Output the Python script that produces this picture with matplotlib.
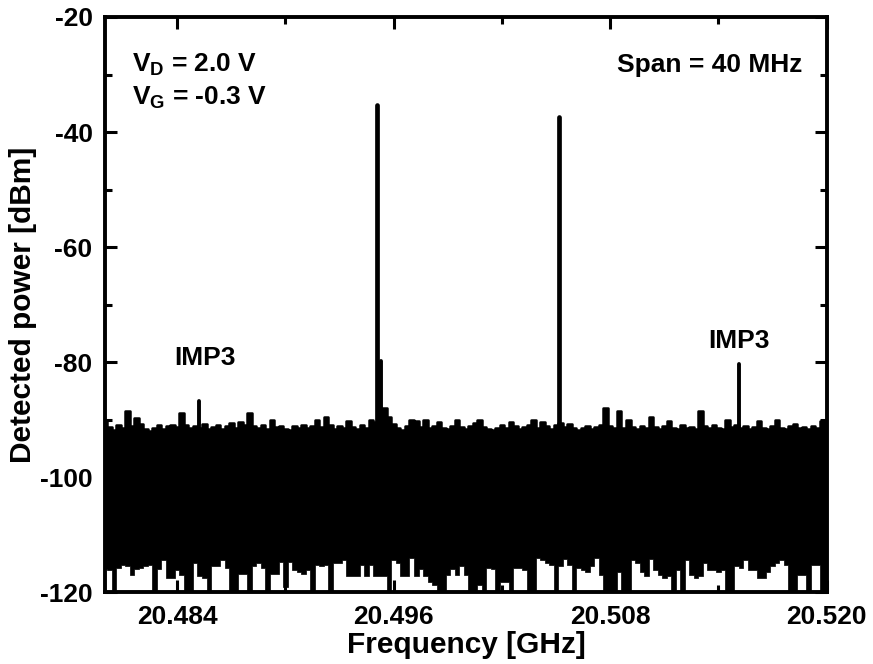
import numpy as np
import matplotlib
matplotlib.use("Agg")
import matplotlib.pyplot as plt
from matplotlib.ticker import FixedLocator

plt.rcParams['font.family'] = ['Liberation Sans', 'DejaVu Sans']
plt.rcParams['font.weight'] = 'bold'
plt.rcParams['axes.unicode_minus'] = False
plt.rcParams['mathtext.fontset'] = 'custom'
plt.rcParams['mathtext.rm'] = 'Liberation Sans:bold'
plt.rcParams['mathtext.bf'] = 'Liberation Sans:bold'
plt.rcParams['mathtext.it'] = 'Liberation Sans:bold'

# ---- data ----
f_start = 20.480          # GHz
f_step = 0.00025          # GHz (0.25 MHz grid of the noise envelope)

noise_upper = [
    -90.2, -91.3, -91.8, -91.0, -91.5, -88.6, -91.2, -89.7, -90.8, -91.6,
    -92.0, -91.4, -91.0, -91.7, -91.2, -90.9, -91.3, -88.8, -91.0, -91.5,
    -91.2, -91.4, -90.8, -91.6, -91.3, -91.0, -91.7, -91.2, -90.6, -91.4,
    -90.5, -91.0, -88.8, -91.1, -91.5, -91.0, -91.6, -90.0, -91.3, -91.1,
    -91.6, -91.8, -91.2, -91.4, -90.9, -91.5, -91.1, -90.0, -91.3, -89.5,
    -91.0, -91.6, -91.2, -91.4, -90.2, -91.3, -91.7, -91.0, -91.5, -90.0,
    -90.5, -89.0, -88.0, -89.6, -90.8, -91.4, -91.8, -91.2, -90.0, -90.3,
    -91.3, -90.0, -91.5, -91.2, -90.5, -91.4, -91.6, -91.1, -90.0, -91.3,
    -91.7, -91.2, -90.6, -90.0, -91.3, -91.6, -91.9, -91.4, -91.0, -91.5,
    -90.5, -91.2, -91.6, -91.3, -91.0, -90.0, -91.4, -90.5, -91.2, -91.6,
    -91.0, -90.6, -91.3, -90.8, -91.5, -91.8, -91.4, -91.2, -91.7, -91.3,
    -91.0, -88.0, -91.2, -91.5, -88.6, -91.4, -90.0, -91.3, -91.6, -91.2,
    -91.5, -89.5, -91.3, -91.6, -91.2, -90.2, -91.4, -91.7, -91.0, -91.5,
    -91.3, -91.6, -88.6, -91.2, -91.5, -91.0, -91.4, -91.7, -90.0, -91.3,
    -91.0, -91.5, -91.2, -91.6, -91.3, -90.3, -91.4, -91.7, -91.2, -90.0,
    -91.4, -91.6, -91.2, -90.8, -91.5, -91.3, -91.7, -91.1, -91.4, -90.2,
    -90.6,
]

noise_lower = [
    -116.0, -116.2, -121.0, -115.8, -115.3, -115.5, -117.0, -116.0, -115.9, -115.5,
    -115.3, -121.0, -116.0, -114.4, -117.5, -117.6, -116.2, -117.1, -121.0, -121.0,
    -114.9, -117.3, -117.6, -121.0, -115.5, -115.5, -114.4, -115.9, -121.0, -121.0,
    -116.8, -116.8, -121.0, -115.5, -114.9, -115.9, -121.0, -116.8, -116.8, -114.8,
    -119.1, -114.8, -116.2, -116.5, -116.8, -116.2, -121.0, -115.3, -115.5, -115.3,
    -121.0, -114.9, -114.9, -114.4, -117.3, -117.3, -117.3, -115.3, -117.3, -115.3,
    -117.3, -117.3, -117.3, -121.0, -114.4, -114.9, -117.3, -117.3, -114.0, -117.3,
    -116.0, -117.3, -118.2, -118.8, -121.0, -121.0, -117.1, -116.0, -117.1, -115.5,
    -117.1, -121.0, -121.0, -118.8, -121.0, -115.9, -116.0, -121.0, -118.2, -118.2,
    -121.0, -115.9, -115.9, -116.2, -121.0, -121.0, -114.0, -114.4, -114.9, -115.3,
    -121.0, -115.5, -114.2, -115.3, -121.0, -115.9, -116.2, -116.5, -115.5, -114.0,
    -117.1, -121.0, -121.0, -121.0, -116.5, -121.0, -121.0, -114.4, -114.9, -116.5,
    -117.3, -114.2, -116.2, -117.1, -117.6, -117.3, -121.0, -116.2, -121.0, -114.4,
    -117.1, -117.6, -117.3, -114.9, -116.2, -116.2, -116.5, -116.2, -121.0, -121.0,
    -115.5, -115.9, -114.4, -116.2, -116.2, -117.6, -117.6, -116.5, -115.5, -114.9,
    -114.4, -115.3, -121.0, -121.0, -117.1, -117.1, -121.0, -115.3, -115.3, -121.0,
    -121.0,
]

# spectral lines: two tones, spur on the first tone's skirt, and the IMP3 products
line_freq = [20.48522, 20.49509, 20.49530, 20.50515, 20.51513]
line_level = [-86.7, -35.3, -79.8, -37.4, -80.3]
line_kind = ['imp', 'tone', 'spur', 'tone', 'imp']

x_major = [20.484, 20.496, 20.508, 20.520]
x_major_labels = ['20.484', '20.496', '20.508', '20.520']
x_minor = [20.490, 20.502, 20.514]
y_major = [-120, -100, -80, -60, -40, -20]
y_minor = [-110, -90, -70, -50, -30]

# ---- figure ----
fig = plt.figure(figsize=(8.73, 6.64), dpi=100)
ax = fig.add_axes([0.1203, 0.1084, 0.947 - 0.1203, 0.9744 - 0.1084])

freq = f_start + f_step * np.arange(len(noise_upper))
up = np.array(noise_upper)
lo = np.array(noise_lower)

ax.fill_between(freq, lo, up, step='mid', color='black', lw=0.5,
                edgecolor='black', zorder=2)
ax.plot(freq, up, drawstyle='steps-mid', color='black', lw=1.8,
        solid_joinstyle='round', zorder=2)

for fq, lv, kind in zip(line_freq, line_level, line_kind):
    lw = 3.4 if kind == 'tone' else 2.8
    ax.plot([fq, fq], [-100, lv], color='black', lw=lw,
            solid_capstyle='round', zorder=3)

ax.set_xlim(20.480, 20.520)
ax.set_ylim(-120, -20)

ax.xaxis.set_major_locator(FixedLocator(x_major))
ax.set_xticklabels(x_major_labels)
ax.xaxis.set_minor_locator(FixedLocator(x_minor))
ax.yaxis.set_major_locator(FixedLocator(y_major))
ax.yaxis.set_minor_locator(FixedLocator(y_minor))

ax.tick_params(which='both', direction='in', top=True, right=True,
               width=2.2, labelsize=19, zorder=5)
ax.tick_params(which='major', length=8.5, pad=9)
ax.tick_params(which='minor', length=5)
for lab in ax.get_xticklabels() + ax.get_yticklabels():
    lab.set_fontweight('bold')

for sp in ax.spines.values():
    sp.set_linewidth(2.8)
    sp.set_zorder(6)

ax.set_xlabel('Frequency [GHz]', fontsize=21.5, fontweight='bold', labelpad=2)
ax.set_ylabel('Detected power [dBm]', fontsize=21.5, fontweight='bold')
ax.yaxis.set_label_coords(-0.094, 0.5)

ax.text(0.038, 0.905, r'$\mathregular{V_D}$ = 2.0 V', transform=ax.transAxes,
        fontsize=19, fontweight='bold', ha='left', va='baseline')
ax.text(0.038, 0.848, r'$\mathregular{V_G}$ = -0.3 V', transform=ax.transAxes,
        fontsize=19, fontweight='bold', ha='left', va='baseline')
ax.text(0.966, 0.905, 'Span = 40 MHz', transform=ax.transAxes,
        fontsize=19, fontweight='bold', ha='right', va='baseline')
ax.text(0.139, 0.407, 'IMP3', transform=ax.transAxes,
        fontsize=19, fontweight='bold', ha='center', va='center')
ax.text(0.878, 0.437, 'IMP3', transform=ax.transAxes,
        fontsize=19, fontweight='bold', ha='center', va='center')

fig.savefig('out.png', dpi=100)
